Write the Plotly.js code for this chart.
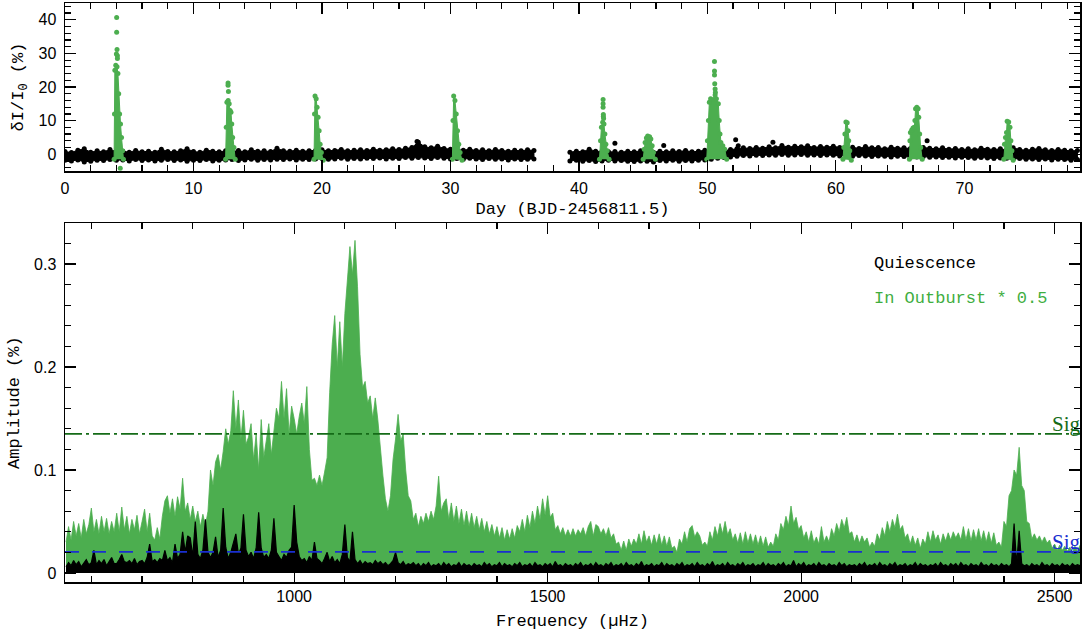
<!DOCTYPE html>
<html>
<head>
<meta charset="utf-8">
<script src="https://cdn.plot.ly/plotly-3.0.1.min.js"></script>
<style>
body { margin: 0; background: #fff; }
#c1 { width: 1084px; height: 634px; }
</style>
</head>
<body>
<div id="c1"></div>
<script>
// ---- light curve (top) ----
// quiescent band: upper and lower edge of the black dots, one value every 0.5 d
var bandStep = 0.5;
var band1Start = 0;
var band1Hi = [0.8,0.5,1.2,1.6,0.6,1.0,0.7,1.4,0.8,0.9,0.6,1.1,0.7,0.9,0.6,1.5,0.8,0.7,1.0,1.6,
  0.8,0.6,1.2,0.9,0.7,1.0,0.8,1.1,0.7,1.3,0.9,1.0,0.8,1.8,1.0,0.9,1.2,0.9,1.0,1.1,
  1.3,1.0,1.1,1.4,1.0,1.2,1.3,1.1,1.5,1.2,1.3,1.6,1.4,1.8,2.0,3.6,2.2,1.9,2.4,1.7,
  1.5,1.3,1.2,1.5,1.1,1.3,1.0,1.4,1.1,0.9,1.2,1.0,1.3,1.1];
var band1Lo = [-1.8,-2.0,-1.7,-2.3,-2.1,-1.8,-1.9,-1.6,-1.8,-1.7,-2.0,-1.6,-1.9,-1.7,-2.0,-1.8,-1.6,-1.9,-1.7,-2.1,
  -1.8,-1.9,-1.6,-2.0,-1.8,-1.7,-1.6,-1.9,-1.7,-1.5,-1.8,-1.6,-1.7,-1.5,-1.6,-1.4,-1.7,-1.5,-1.6,-1.4,
  -1.3,-1.5,-1.4,-1.2,-1.5,-1.3,-1.4,-1.2,-1.3,-1.1,-1.4,-1.2,-1.3,-1.0,-1.2,-1.0,-1.1,-1.3,-1.0,-1.2,
  -1.4,-1.3,-1.5,-1.2,-1.4,-1.6,-1.3,-1.5,-1.4,-1.7,-1.4,-1.6,-1.5,-1.4];
var band2Start = 39.3;
var band2Hi = [0.6,0.9,0.7,1.5,0.9,0.8,0.7,0.8,0.6,0.9,0.7,1.0,0.8,0.6,0.9,0.7,1.0,0.8,1.1,0.7,
  0.9,1.2,1.0,1.2,1.1,1.4,1.6,1.9,1.7,2.0,1.8,2.2,1.9,2.6,2.1,2.4,2.2,2.5,2.0,2.3,
  2.1,2.4,2.0,1.8,2.1,1.7,2.3,1.9,2.0,1.6,2.1,1.8,1.9,1.7,1.8,2.0,1.8,1.6,1.9,1.5,
  1.7,1.4,1.6,1.3,1.8,1.5,1.4,1.6,1.3,1.9,1.4,1.2,1.5,1.7,1.3,1.1,1.4,1.2,1.0,1.1];
var band2Lo = [-2.0,-1.8,-2.1,-1.9,-2.2,-2.0,-1.8,-2.0,-1.9,-2.1,-2.2,-2.0,-2.1,-2.3,-1.9,-2.0,-1.8,-2.1,-1.9,-2.0,
  -1.8,-1.7,-1.5,-1.2,-1.0,-0.8,-0.6,-0.4,-0.5,-0.3,-0.4,-0.2,-0.3,-0.1,-0.3,-0.2,-0.1,-0.3,-0.2,-0.4,
  -0.2,-0.3,-0.5,-0.4,-0.6,-0.4,-0.5,-0.7,-0.5,-0.6,-0.8,-0.6,-0.7,-0.9,-0.8,-0.7,-0.9,-0.8,-1.0,-0.9,
  -1.1,-0.9,-1.0,-1.2,-1.0,-1.1,-1.3,-1.1,-1.2,-1.4,-1.3,-1.5,-1.4,-1.6,-1.4,-1.7,-1.5,-1.6,-1.8,-1.6];
// stray quiescent points
var quietOddT = [27.4, 42.8, 46.6, 52.2, 52.4, 55.1, 67.1];
var quietOddY = [3.8, 3.3, 2.6, 4.3, 2.5, 3.6, 4.0];

// outbursts: outline of each green column (null between bursts)
var burstT = [3.82,3.85,3.88,3.95,4.05,4.12,4.18,4.25,4.32,4.4,4.48,4.55, null,
  12.5,12.55,12.6,12.7,12.78,12.85,12.92,12.98,13.05,13.15,13.25, null,
  19.38,19.42,19.46,19.55,19.62,19.7,19.78,19.86,19.95,20.1, null,
  30.15,30.2,30.25,30.35,30.45,30.55,30.65,30.75,30.9, null,
  41.6,41.68,41.75,41.85,41.95,42.02,42.1,42.2,42.35, null,
  45.0,45.08,45.15,45.25,45.35,45.5,45.6,45.7,45.8,45.95, null,
  49.95,50.0,50.08,50.15,50.25,50.5,50.7,50.85,50.92,50.98,51.05,51.2,51.35,51.5, null,
  60.55,60.62,60.7,60.78,60.88,60.95,61.0,61.08,61.2, null,
  65.72,65.76,65.8,65.9,66.0,66.1,66.15,66.2,66.3,66.4,66.45,66.52,66.6,66.72, null,
  73.07,73.12,73.2,73.28,73.33,73.45,73.55,73.62,73.7,73.8];
var burstY = [-1.5,12,25,26.5,26,24,18,12,9,5,1,-1.5, null,
  -1.5,8,15.5,16,15,13,12.5,9,5,2,-1.5, null,
  -1.5,12,17.3,16.5,14,11,7,3,0.5,-1.8, null,
  -1.5,10,17.3,16,12,7,3,0.5,-1.8, null,
  -1.5,4,8,9.5,9,6,3,1,-1.5, null,
  -1.5,1.5,3.5,4.8,5.4,5.2,4.5,2.5,0.5,-1.5, null,
  -1.5,4,10,15.5,16.5,16.3,16.5,15,10,6,3.5,2.5,1.5,-1.5, null,
  -1.5,2,6,9.6,9.4,7,4,1,-1.8, null,
  -1.5,4,6.5,7.2,7.8,8,10,13.5,14,13.5,11,6,2,-1.5, null,
  -1.5,3,5,6.5,9.8,9.6,8,4,1,-1.8];
// isolated bright points above the columns
var burstDotT = [4.02,4.02,4.05,4.0,4.08,4.08,4.3, 12.69,12.69,12.72,
  41.88,41.88,41.88,41.9,41.9,41.92, 50.55,50.55,50.55,50.57,50.6,50.62,50.6];
var burstDotY = [40.7,36.3,31.2,29.8,29.3,28.5,-4.2, 21.2,20.5,18.7,
  16.3,15.0,14.0,11.8,11.2,10.6, 27.6,24.8,23.6,21.0,19.4,18.4,17.6];

// ---- periodogram (bottom) ----
// amplitudes in units of 0.001 %, one value every 5 uHz from 550 uHz
var freqStart = 550;
var freqStep = 5;
var outburstAmp = [
  30,45,32,50,36,48,34,52,38,47,   63,40,52,38,55,40,53,38,50,40,
  58,40,64,42,55,38,52,42,56,38,   50,62,40,58,36,32,44,33,55,70,
  75,58,72,55,74,62,92,60,68,52,   65,50,60,45,57,46,60,100,85,108,
  115,100,118,140,125,138,177,140,168,130,   158,125,132,145,110,135,100,149,112,130,
  145,115,138,160,150,186,150,179,135,162,   150,135,152,165,145,181,120,90,92,85,
  95,85,98,112,175,222,250,200,244,200,      252,283,317,290,323,278,212,180,186,165,
  172,150,170,149,120,95,72,60,75,110,       130,154,128,135,100,75,70,52,58,45,
  55,48,58,50,60,52,65,94,60,68,   72,52,68,50,65,48,62,46,60,45,
  58,44,55,42,53,40,50,38,47,36,   45,34,44,32,42,33,43,34,46,40,
  52,40,56,44,60,48,65,52,72,56,   75,54,58,42,46,38,44,36,42,36,
  43,36,42,38,44,36,45,50,36,47,   45,38,43,36,44,34,38,28,30,22,
  31,22,33,26,33,28,38,28,41,30,   36,27,37,28,38,27,36,26,35,24,
  26,20,33,28,40,30,43,46,35,40,   36,27,30,26,40,32,45,36,48,38,
  50,37,43,32,38,29,39,28,40,29,   38,28,37,27,36,26,35,25,30,26,
  38,32,48,42,55,46,65,48,54,42,   46,34,40,30,41,29,35,28,45,30,
  36,30,43,36,48,40,52,44,54,38,   40,30,37,29,36,30,34,25,30,26,
  38,32,44,36,50,40,52,44,57,42,   46,34,38,28,36,27,34,24,33,28,
  40,30,41,32,37,28,38,31,39,32,   40,34,39,32,45,32,43,31,42,32,
  43,31,41,30,40,29,39,27,30,25,   50,45,75,80,100,95,122,85,80,50,
  48,33,38,32,36,30,35,29,32,24,   28,22,27,22,26,21,25,20,26,21,
  27];
var quietAmp = [
  6,10,7,12,8,11,6,9,13,8,     10,22,8,12,9,13,7,11,15,9,
  9,13,18,11,10,12,9,14,8,11,  12,9,15,28,11,13,10,14,12,22,
  12,15,10,28,14,18,40,20,36,34,   16,50,18,14,22,52,20,15,20,35,
  15,22,63,25,14,20,30,38,18,24,   57,22,16,20,14,24,59,24,15,18,
  14,22,53,20,16,12,18,15,22,25,   66,30,16,12,14,10,16,12,30,14,
  12,9,14,20,11,16,10,13,9,18,     47,15,11,40,13,9,12,8,11,9,
  10,8,12,9,11,8,10,7,9,12,        20,10,8,11,7,9,8,10,7,9,
  6,9,7,10,6,8,7,9,6,10,   7,9,6,8,7,10,6,9,7,8,
  6,9,7,8,6,10,7,9,6,8,    7,10,6,9,7,8,6,9,7,10,
  6,8,7,9,6,10,7,8,6,9,    7,9,6,11,7,8,6,9,7,8,
  6,9,7,10,6,8,7,9,6,10,   7,8,6,9,7,10,6,8,7,9,
  6,10,7,8,6,9,7,11,6,8,   7,9,6,8,7,10,6,9,7,8,
  6,9,7,10,6,8,7,9,6,10,   7,8,6,9,7,11,6,8,7,9,
  6,10,7,8,6,9,7,10,6,8,   7,9,6,8,7,10,6,9,7,8,
  6,9,7,10,6,8,7,12,6,9,   7,10,6,8,7,9,6,10,7,8,
  6,9,7,8,6,10,7,9,6,8,    7,8,6,9,7,10,6,8,7,9,
  6,10,7,8,6,9,7,10,6,8,   7,9,6,8,7,10,6,9,7,8,
  6,8,7,9,6,10,7,8,6,9,    7,9,6,10,7,8,6,9,7,8,
  6,10,7,8,6,9,7,8,6,9,    7,8,6,9,48,8,41,9,7,8,
  6,9,7,8,6,10,7,8,6,9,    7,8,6,9,7,8,6,9,7,8,
  7];
var sigOutburst = 0.135;
var sigQuiet = 0.0205;
var freqRange = [548, 2550];

var green = '#4cae4f';
var mono = 'Liberation Mono, Courier New, monospace';
var sans = 'Liberation Sans, Arial, sans-serif';

function bandOutline(start, hi, lo) {
	var xs = [], ys = [];
	for (var i = 0; i < hi.length; i++) { xs.push(start + i*bandStep); ys.push(hi[i]); }
	for (var i = lo.length - 1; i >= 0; i--) { xs.push(start + i*bandStep); ys.push(lo[i]); }
	return [xs, ys];
}
var b1 = bandOutline(band1Start, band1Hi, band1Lo);
var b2 = bandOutline(band2Start, band2Hi, band2Lo);
var bandX = b1[0].concat([null], b2[0]);
var bandY = b1[1].concat([null], b2[1]);

var freq = [];
var outY = [], quietY = [];
for (var i = 0; i < outburstAmp.length; i++) {
	freq.push(freqStart + i*freqStep);
	outY.push(outburstAmp[i] / 1000);
	quietY.push(quietAmp[i] / 1000);
}

var traceBand = {
	x: bandX, y: bandY, xaxis: 'x', yaxis: 'y',
	mode: 'lines+markers', fill: 'toself', fillcolor: 'black',
	line: {color: 'black', width: 1}, marker: {color: 'black', size: 5}
};
var traceOdd = {
	x: quietOddT, y: quietOddY, xaxis: 'x', yaxis: 'y',
	mode: 'markers', marker: {color: 'black', size: 5}
};
var traceBurst = {
	x: burstT, y: burstY, xaxis: 'x', yaxis: 'y',
	mode: 'lines+markers', fill: 'toself', fillcolor: green,
	line: {color: green, width: 1}, marker: {color: green, size: 5}
};
var traceBurstDots = {
	x: burstDotT, y: burstDotY, xaxis: 'x', yaxis: 'y',
	mode: 'markers', marker: {color: green, size: 5}
};
var traceOut = {
	x: freq, y: outY, xaxis: 'x2', yaxis: 'y2',
	mode: 'lines', fill: 'tozeroy', fillcolor: green,
	line: {color: green, width: 0.8}
};
var traceQuiet = {
	x: freq, y: quietY, xaxis: 'x2', yaxis: 'y2',
	mode: 'lines', fill: 'tozeroy', fillcolor: 'black',
	line: {color: 'black', width: 1.2}
};
var traceSigOut = {
	x: freqRange, y: [sigOutburst, sigOutburst], xaxis: 'x2', yaxis: 'y2',
	mode: 'lines', line: {color: '#146b17', width: 1.8, dash: '17px,4px,3px,4px'}
};
var traceSigQuiet = {
	x: freqRange, y: [sigQuiet, sigQuiet], xaxis: 'x2', yaxis: 'y2',
	mode: 'lines', line: {color: '#1a2fd0', width: 1.8, dash: '14px,13px'}
};

function axisStyle(extra) {
	var a = {
		showline: true, linecolor: 'black', linewidth: 1.5, mirror: 'allticks',
		ticks: 'inside', ticklen: 11, tickwidth: 1.2, tickcolor: 'black',
		showgrid: false, zeroline: false, automargin: false,
		tickfont: {family: sans, size: 16, color: 'black'}
	};
	for (var k in extra) a[k] = extra[k];
	return a;
}

var titleFont = {family: mono, size: 17, color: 'black'};
var layout = {
	width: 1084, height: 634,
	margin: {l: 65, r: 4, t: 3, b: 52},
	paper_bgcolor: 'white', plot_bgcolor: 'white',
	showlegend: false,
	xaxis: axisStyle({
		domain: [0, 1], anchor: 'y', range: [0, 79], dtick: 10, tick0: 0,
		minor: {dtick: 2, ticklen: 6, ticks: 'inside', tickcolor: 'black'},
		ticklabelstandoff: 2,
		title: {text: 'Day (BJD-2456811.5)', font: titleFont, standoff: 6}
	}),
	yaxis: axisStyle({
		domain: [0.7098, 1], anchor: 'x', range: [-5, 45], dtick: 10, tick0: 0,
		minor: {dtick: 2, ticklen: 6, ticks: 'inside', tickcolor: 'black'},
		ticklabelstandoff: 4,
		title: {text: 'δI/I<sub>0</sub> (%)', font: titleFont, standoff: 10}
	}),
	xaxis2: axisStyle({
		domain: [0, 1], anchor: 'y2', range: freqRange, dtick: 500, tick0: 0,
		minor: {dtick: 100, ticklen: 6, ticks: 'inside', tickcolor: 'black'},
		ticklabelstandoff: -1,
		title: {text: 'Frequency (µHz)', font: titleFont, standoff: 10}
	}),
	yaxis2: axisStyle({
		domain: [0, 0.6195], anchor: 'x2', range: [-0.0088, 0.3396], dtick: 0.1, tick0: 0,
		minor: {dtick: 0.02, ticklen: 6, ticks: 'inside', tickcolor: 'black'},
		ticklabelstandoff: 4,
		title: {text: 'Amplitude (%)', font: titleFont, standoff: 10}
	}),
	annotations: [
		{xref: 'x2', yref: 'y2', x: 2140, y: 0.3007, xanchor: 'left', yanchor: 'middle',
		 text: 'Quiescence', showarrow: false, font: {family: mono, size: 17, color: 'black'}},
		{xref: 'x2', yref: 'y2', x: 2140, y: 0.2667, xanchor: 'left', yanchor: 'middle',
		 text: 'In Outburst * 0.5', showarrow: false, font: {family: mono, size: 17, color: '#3fae3f'}},
		{xref: 'paper', yref: 'y2', x: 1.003, y: sigOutburst, xanchor: 'right', yanchor: 'bottom',
		 text: 'Sig', showarrow: false, yshift: -4, font: {family: 'Liberation Serif, serif', size: 21, color: '#146b17'}},
		{xref: 'paper', yref: 'y2', x: 1.003, y: sigQuiet, xanchor: 'right', yanchor: 'bottom',
		 text: 'Sig', showarrow: false, yshift: -4, font: {family: 'Liberation Serif, serif', size: 21, color: '#1a2fd0'}}
	]
};

Plotly.newPlot('c1', [traceBand, traceOdd, traceBurst, traceBurstDots, traceOut, traceQuiet, traceSigOut, traceSigQuiet], layout, {staticPlot: true});
</script>
</body>
</html>
